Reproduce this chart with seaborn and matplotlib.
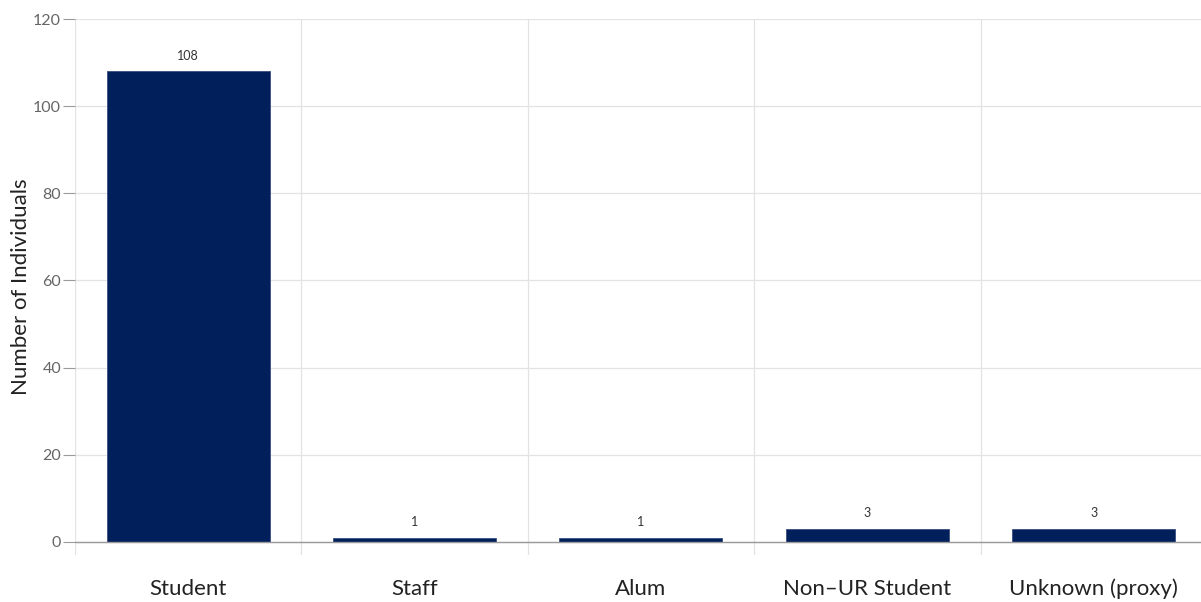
import numpy as np
import pandas as pd
import seaborn as sns
import matplotlib.pyplot as plt
from matplotlib.ticker import FixedLocator

# data
categories = ['Student', 'Staff', 'Alum', 'Non\u2013UR Student', 'Unknown (proxy)']
counts = [108, 1, 1, 3, 3]

df = pd.DataFrame({'group': categories, 'n': counts})

sns.set_theme(style='white')
plt.rcParams['font.family'] = ['Lato', 'DejaVu Sans']

fig = plt.figure(figsize=(12.01, 6.02), dpi=100)
ax = fig.add_axes([0.0624, 0.078, 0.9426, 0.8904])

sns.barplot(data=df, x='group', y='n', color='#011F5B', width=0.72,
            edgecolor='#3a4f80', linewidth=0.6, saturation=1, ax=ax)

for i, v in enumerate(df['n']):
    ax.text(i, v + 2.2, str(v), ha='center', va='bottom', fontsize=9, color='#333333')

ax.set_ylim(-3, 120)
ax.set_xlim(-0.5, len(categories) - 0.5)
ax.set_yticks([0, 20, 40, 60, 80, 100, 120])

# light gridlines: horizontal at y ticks, vertical at category boundaries
ax.xaxis.set_minor_locator(FixedLocator(np.arange(len(categories) + 1) - 0.5))
ax.grid(axis='y', which='major', color='#e3e3e3', linewidth=0.9)
ax.grid(axis='x', which='minor', color='#e3e3e3', linewidth=0.9)
ax.grid(axis='x', which='major', visible=False)
ax.axhline(0, color='#9a9a9a', linewidth=1.0, zorder=3)

for s in ax.spines.values():
    s.set_visible(False)

ax.tick_params(axis='y', which='major', length=9, width=0.8, color='#9a9a9a',
               labelsize=11.5, labelcolor='#666666', pad=1, left=True)
ax.tick_params(axis='x', which='major', length=0, labelsize=16,
               labelcolor='#222222', pad=17)
ax.tick_params(axis='x', which='minor', length=0)

ax.set_xlabel('')
ax.set_ylabel('Number of Individuals', fontsize=16, color='#222222')
ax.yaxis.set_label_coords(-0.039, 0.5)

fig.savefig('out.png', dpi=100)
